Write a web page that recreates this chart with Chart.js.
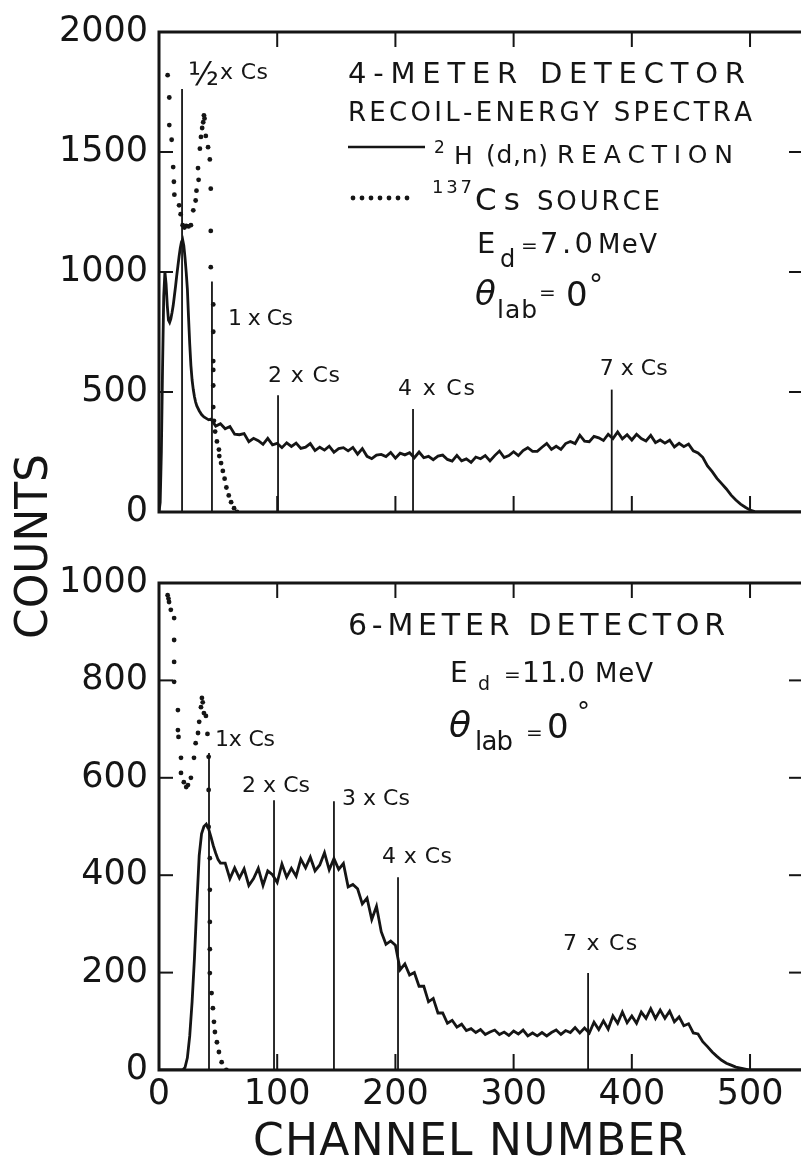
<!DOCTYPE html>
<html>
<head>
<meta charset="utf-8">
<script src="https://cdn.jsdelivr.net/npm/chart.js@4.4.0/dist/chart.umd.min.js"></script>
<style>
  html, body { margin: 0; padding: 0; background: #fff; overflow: hidden; }
  #wrap { position: relative; width: 801px; height: 1161px; overflow: hidden; }
  canvas { position: absolute; left: 0; }
  #top { top: 0; z-index: 2; }
  #bottom { top: 545px; z-index: 1; }
</style>
</head>
<body>
<div id="wrap">
  <canvas id="bottom" width="820" height="616"></canvas>
  <canvas id="top" width="820" height="660"></canvas>
</div>
<script>
const FONT = '"DejaVu Sans", sans-serif';
const INK = '#151515';
const X_MAX = 546.5;

// ---- 4-meter detector, Ed = 7.0 MeV ----
const recoil4m = [
  [0,0],[1,40],[2,250],[3,600],[4,900],[5,1000],[6,950],[7,860],[8,800],[9,790],[10,805],
  [11,830],[12,860],[13,900],[14,940],[15,985],[16,1025],[17,1065],[18,1100],[19,1125],[20,1135],
  [21,1110],[22,1060],[23,1000],[24,930],[25,810],[26,700],[27,610],[28,550],[29,510],[30,480],
  [31,458],[32,442],[34,422],[36,406],[38,396],[40,390],[42,384],
  [44,387],[48,358],[52,368],[56,347],[60,356],[64,324],[68,322],[72,327],[76,293],[80,307],
  [84,297],[88,282],[92,307],[96,280],[100,286],[104,268],[108,288],[112,273],[116,287],[120,265],
  [124,270],[128,285],[132,256],[136,270],[140,258],[144,274],[148,249],[152,264],[156,268],[160,255],
  [164,269],[168,241],[172,264],[176,232],[180,222],[184,237],[188,240],[192,231],[196,248],[200,224],
  [204,245],[208,238],[212,247],[216,226],[220,250],[224,226],[228,232],[232,218],[236,233],[240,237],
  [244,219],[248,212],[252,236],[256,213],[260,221],[264,207],[268,229],[272,222],[276,235],[280,213],
  [284,235],[288,254],[292,227],[296,235],[300,251],[304,235],[308,256],[312,268],[316,253],[320,253],
  [324,270],[328,286],[332,261],[336,274],[340,261],[344,285],[348,294],[352,285],[356,320],[360,295],
  [364,293],[368,315],[372,309],[376,298],[380,324],[384,306],[388,334],[392,305],[396,322],[400,300],
  [404,324],[408,306],[412,296],[416,319],[420,289],[424,300],[428,287],[432,299],[436,271],[440,286],
  [444,272],[448,283],[452,255],[456,246],[460,228],[464,192],[468,168],[472,140],[476,118],[480,96],
  [484,70],[488,50],[492,33],[496,20],[500,8],[504,2],[508,0],[546,0]
];
const source4m = [
  [7.3,1820],[8.7,1727],[8.7,1612],[10.7,1551],[12,1437],[12.6,1376],[13,1322],[17,1278],[18.3,1241],
  [20,1195],[21.5,1185],[23,1192],[25,1190],[27,1195],[29,1257],[31,1298],[31.7,1339],[33.5,1384],
  [33,1433],[34.6,1514],[35.5,1563],[36.5,1600],[37.4,1624],[38,1653],[38.5,1640],[39.6,1567],
  [41.5,1520],[43,1469],[43.8,1347],[43.8,1171],[43.8,1020],[45.9,865],[45.9,751],[45.9,629],
  [45.9,592],[45.9,527],[45.9,437],[46.5,380],[47.5,335],[49,294],[50.7,260],[51,233],[52.5,204],
  [54,171],[55.5,139],[57,102],[59,69],[61,41],[63.5,16],[66,0]
];
const markerCh4m = [19.5, 44.8, 100.7, 214.9, 383];
const markerTop4m = [1763, 960, 486, 429, 510];
const markerText4m = ['½x Cs', '1 x Cs', '2 x Cs', '4 x Cs', '7 x Cs'];

// ---- 6-meter detector, Ed = 11.0 MeV ----
const recoil6m = [
  [0,0],[20,0],[22,5],[24,25],[26,70],[28,140],[30,230],[32,340],[34,440],[36,485],[38,500],
  [40,505],[42,495],[44,478],[46,460],[48,445],[50,432],[52,425],
  [56,425],[60,393],[64,415],[68,394],[72,413],[76,379],[80,393],[84,414],[88,379],[92,409],
  [96,401],[100,385],[104,423],[108,396],[112,414],[116,398],[120,433],[124,415],[128,437],[132,409],
  [136,421],[140,446],[144,411],[148,434],[152,412],[156,424],[160,376],[164,381],[168,372],[172,341],
  [176,353],[180,309],[184,336],[188,284],[192,258],[196,265],[200,256],[204,206],[208,218],[212,195],
  [216,200],[220,172],[224,172],[228,140],[232,147],[236,117],[240,117],[244,96],[248,102],[252,88],
  [256,94],[260,81],[264,85],[268,77],[272,83],[276,73],[280,78],[284,82],[288,73],[292,78],
  [296,71],[300,80],[304,74],[308,82],[312,70],[316,76],[320,70],[324,77],[328,70],[332,77],
  [336,82],[340,73],[344,81],[348,77],[352,87],[356,76],[360,86],[364,76],[368,98],[372,83],
  [376,101],[380,84],[384,111],[388,96],[392,119],[396,97],[400,111],[404,96],[408,119],[412,106],
  [416,126],[420,106],[424,123],[428,106],[432,121],[436,99],[440,109],[444,91],[448,95],[452,76],
  [456,74],[460,58],[464,48],[468,37],[472,28],[476,20],[480,14],[484,10],[488,6],[492,4],
  [496,2],[500,0],[546,0]
];
const source6m = [
  [7.3,975],[8,968],[8.5,961],[10,945],[12.8,928],[12.8,883],[12.8,838],[12.8,797],[16,739],[16,698],
  [16.5,684],[18.6,641],[18.6,610],[21,591],[23,581],[24.5,585],[27,600],[29.6,641],[31,671],[33,692],
  [34,715],[35.5,745],[36.3,764],[37,755],[38,733],[39.7,727],[41,690],[42,643],[42,575],[42,499],
  [43,435],[43,370],[43,304],[43,248],[43,199],[44.5,158],[45.6,127],[46.5,99],[47.3,78],[49,57],
  [50.7,37],[53,16],[57,0]
];
const markerCh6m = [42.3, 97.3, 148, 202.2, 363];
const markerTop6m = [651, 554, 552, 396, 199];
const markerText6m = ['1x Cs', '2 x Cs', '3 x Cs', '4 x Cs', '7 x Cs'];

const channelTicks = [100, 200, 300, 400, 500];
const countTicks4m = [500, 1000, 1500];
const countTicks6m = [200, 400, 600, 800];

// layout: label offsets from the top of each marker line, label widths (px)
const labelDx4m = [8, 16, -10, -15, -12], labelDy4m = [-10, 43, -13, -14, -15], labelW4m = [48, 65, 72, 77, 68];
const labelDx6m = [6, -32, 8, -16, -25], labelDy6m = [-7, -8, 4, -14, -23], labelW6m = [60, 68, 68, 70, 74];

// text runs: [text, left, baseline, size, width, style] in page pixels
const notes4m = [
  ['4-METER DETECTOR', 348, 83, 29, 397],
  ['RECOIL-ENERGY SPECTRA', 348, 121, 26, 404],
  ['2', 434, 153, 17],
  ['H', 454, 164, 25],
  ['(d,n)', 486, 163, 25, 62],
  ['REACTION', 557, 163, 25, 176],
  ['137', 432, 193, 18, 40],
  ['Cs', 475, 210, 31, 45],
  ['SOURCE', 537, 210, 26, 123],
  ['E', 477, 253, 29],
  ['d', 500, 267, 24],
  ['=', 521, 252, 20],
  ['7.0', 540, 253, 29, 53],
  ['MeV', 598, 253, 26, 59],
  ['θ', 475, 305, 34, null, 'italic'],
  ['lab', 497, 318, 25, 40],
  ['=', 539, 299, 20],
  ['0', 566, 306, 34],
  ['°', 589, 294, 28]
];
const notes6m = [
  ['6-METER DETECTOR', 348, 635, 30, 377],
  ['E', 450, 682, 28],
  ['d', 478, 690, 19],
  ['=', 504, 681, 20],
  ['11.0', 522, 682, 28, 63],
  ['MeV', 595, 682, 26, 58],
  ['θ', 449, 737, 36, null, 'italic'],
  ['lab', 475, 750, 26, 38],
  ['=', 526, 739, 20],
  ['0', 547, 738, 34],
  ['°', 577, 721, 26],
  ['CHANNEL NUMBER', 253, 1155, 44, 434]
];

Chart.defaults.font.family = FONT;
Chart.defaults.color = INK;

function drawRun(ctx, run, offsetY) {
  const [text, x, y, size, width, style] = run;
  ctx.font = (style ? style + ' ' : '') + size + 'px ' + FONT;
  ctx.textAlign = 'left';
  ctx.textBaseline = 'alphabetic';
  const chars = Array.from(text);
  if (!width || chars.length < 2) { ctx.fillText(text, x, y - offsetY); return; }
  const ws = chars.map(c => ctx.measureText(c).width);
  const natural = ws.reduce((s, w) => s + w, 0);
  const gap = (width - natural) / (chars.length - 1);
  let cx = x;
  chars.forEach((c, i) => { ctx.fillText(c, cx, y - offsetY); cx += ws[i] + gap; });
}

function drawMarkerLabel(ctx, text, lx, ly, w) {
  if (text.startsWith('½')) {
    ctx.font = '32px ' + FONT;
    ctx.textBaseline = 'alphabetic';
    ctx.fillText('½', lx - 2, ly + 6);
    drawRun(ctx, [text.slice(1), lx + 30, ly, 22, w], 0);
  } else {
    drawRun(ctx, [text, lx, ly, 22, w], 0);
  }
}

function panelPlugin(cfg) {
  return {
    id: 'panel',
    afterDatasetsDraw(chart) {
      const { ctx, chartArea: a, scales: { x, y } } = chart;
      const seg = (x1, y1, x2, y2) => { ctx.beginPath(); ctx.moveTo(x1, y1); ctx.lineTo(x2, y2); ctx.stroke(); };
      ctx.save();
      ctx.strokeStyle = INK;
      ctx.fillStyle = INK;

      ctx.lineWidth = 1.8;
      cfg.markerCh.forEach((ch, i) => {
        const px = x.getPixelForValue(ch);
        const top = y.getPixelForValue(cfg.markerTop[i]);
        seg(px, a.bottom, px, top);
        drawMarkerLabel(ctx, cfg.markerText[i], px + cfg.labelDx[i], top + cfg.labelDy[i], cfg.labelW[i]);
      });

      ctx.lineWidth = 3;
      ctx.strokeRect(a.left, a.top, a.right - a.left, a.bottom - a.top);

      ctx.lineWidth = 2;
      channelTicks.forEach(v => {
        const px = x.getPixelForValue(v);
        seg(px, a.top, px, a.top + 15);
        seg(px, a.bottom, px, a.bottom - 16);
      });
      cfg.countTicks.forEach(v => {
        const py = y.getPixelForValue(v);
        seg(a.left, py, a.left + 14, py);
        seg(a.right, py, a.right - 16, py);
      });

      cfg.notes.forEach(r => drawRun(ctx, r, cfg.offsetY));
      if (cfg.extra) cfg.extra(ctx);
      ctx.restore();
    }
  };
}

function spectrumChart(id, cfg) {
  return new Chart(document.getElementById(id), {
    type: 'scatter',
    data: {
      datasets: [
        {
          data: cfg.recoil.map(([x, y]) => ({ x, y })),
          showLine: true, borderColor: INK, borderWidth: 2.8,
          pointRadius: 0, tension: 0
        },
        {
          data: cfg.source.map(([x, y]) => ({ x, y })),
          showLine: false, pointRadius: 2.4,
          pointBackgroundColor: INK, pointBorderWidth: 0
        }
      ]
    },
    options: {
      responsive: false,
      animation: false,
      events: [],
      layout: { padding: { left: 0, right: 15, top: cfg.padTop, bottom: 0 } },
      plugins: { legend: { display: false }, tooltip: { enabled: false } },
      scales: {
        x: {
          type: 'linear', min: 0, max: X_MAX,
          grid: { display: false, drawTicks: false },
          border: { display: false },
          ticks: {
            display: cfg.showX, stepSize: 100, includeBounds: false,
            autoSkip: false, maxRotation: 0, padding: 4,
            font: { size: 35 },
            callback: v => String(v)
          },
          afterFit: s => { s.height = cfg.xHeight; }
        },
        y: {
          min: 0, max: cfg.yMax,
          grid: { display: false, drawTicks: false },
          border: { display: false },
          ticks: {
            stepSize: cfg.yStep, autoSkip: false, padding: 11,
            font: { size: 35 },
            callback: v => String(v)
          },
          afterFit: s => { s.width = 159; }
        }
      }
    },
    plugins: [panelPlugin(cfg)]
  });
}

spectrumChart('top', {
  recoil: recoil4m, source: source4m,
  markerCh: markerCh4m, markerTop: markerTop4m, markerText: markerText4m,
  labelDx: labelDx4m, labelDy: labelDy4m, labelW: labelW4m,
  countTicks: countTicks4m, notes: notes4m, offsetY: 0,
  padTop: 22, xHeight: 148, yMax: 2000, yStep: 500, showX: false,
  extra(ctx) {
    // legend samples
    ctx.lineWidth = 2.5;
    ctx.beginPath(); ctx.moveTo(348, 147); ctx.lineTo(425, 147); ctx.stroke();
    [353, 362, 371, 380, 389, 398, 407].forEach(dx => {
      ctx.beginPath(); ctx.arc(dx, 198, 2.4, 0, Math.PI * 2); ctx.fill();
    });
    // shared y title
    ctx.save();
    ctx.translate(31, 547);
    ctx.rotate(-Math.PI / 2);
    drawRun(ctx, ['COUNTS', -92, 16, 44, 185], 0);
    ctx.restore();
  }
});

spectrumChart('bottom', {
  recoil: recoil6m, source: source6m,
  markerCh: markerCh6m, markerTop: markerTop6m, markerText: markerText6m,
  labelDx: labelDx6m, labelDy: labelDy6m, labelW: labelW6m,
  countTicks: countTicks6m, notes: notes6m, offsetY: 545,
  padTop: 38, xHeight: 91, yMax: 1000, yStep: 200, showX: true
});
</script>
</body>
</html>
